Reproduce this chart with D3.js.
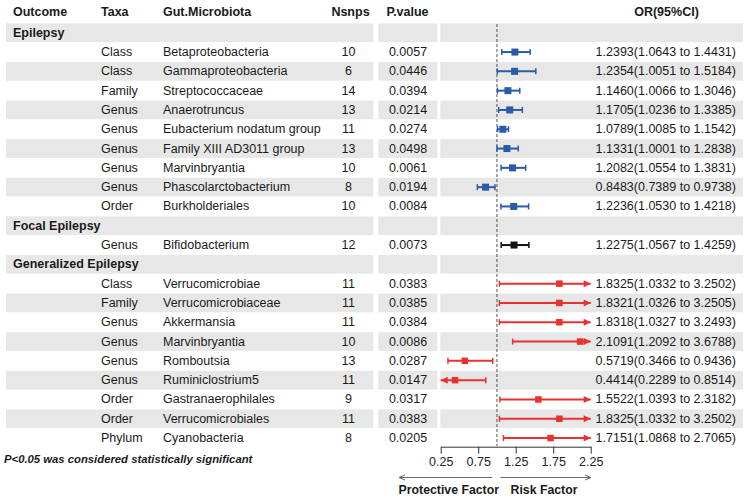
<!DOCTYPE html>
<html>
<head>
<meta charset="utf-8">
<script src="https://cdn.jsdelivr.net/npm/d3@7"></script>
<style>
  body { margin: 0; background: #fff; }
  svg { font-family: "Liberation Sans", Arial, sans-serif; }
</style>
</head>
<body>
<div id="chart"></div>
<script>
// data
const groups = ["Epilepsy", "Focal Epilepsy", "Generalized Epilepsy"];
const groupOf = [0,0,0,0,0,0,0,0,0, 1, 2,2,2,2,2,2,2,2,2];
const taxa = ["Class","Class","Family","Genus","Genus","Genus","Genus","Genus","Order",
  "Genus",
  "Class","Family","Genus","Genus","Genus","Genus","Order","Order","Phylum"];
const microbiota = ["Betaproteobacteria","Gammaproteobacteria","Streptococcaceae","Anaerotruncus",
  "Eubacterium nodatum group","Family XIII AD3011 group","Marvinbryantia","Phascolarctobacterium","Burkholderiales",
  "Bifidobacterium",
  "Verrucomicrobiae","Verrucomicrobiaceae","Akkermansia","Marvinbryantia","Romboutsia",
  "Ruminiclostrium5","Gastranaerophilales","Verrucomicrobiales","Cyanobacteria"];
const nsnps = [10,6,14,13,11,13,10,8,10, 12, 11,11,11,10,13,11,9,11,8];
const pvals = [0.0057,0.0446,0.0394,0.0214,0.0274,0.0498,0.0061,0.0194,0.0084,
  0.0073,
  0.0383,0.0385,0.0384,0.0086,0.0287,0.0147,0.0317,0.0383,0.0205];
const orVals = [1.2393,1.2354,1.1460,1.1705,1.0789,1.1331,1.2082,0.8483,1.2236,
  1.2275,
  1.8325,1.8321,1.8318,2.1091,0.5719,0.4414,1.5522,1.8325,1.7151];
const lowVals = [1.0643,1.0051,1.0066,1.0236,1.0085,1.0001,1.0554,0.7389,1.0530,
  1.0567,
  1.0332,1.0326,1.0327,1.2092,0.3466,0.2289,1.0393,1.0332,1.0868];
const highVals = [1.4431,1.5184,1.3046,1.3385,1.1542,1.2838,1.3831,0.9738,1.4218,
  1.4259,
  3.2502,3.2505,3.2493,3.6788,0.9436,0.8514,2.3182,3.2502,2.7065];
const tickValues = [0.25, 0.75, 1.25, 1.75, 2.25];

const groupColors = ["#2b5aa8", "#111111", "#e8322f"];
const markSize = [7, 7, 6.5];

const W = 748, H = 499;
const fmt4 = d3.format(".4f");

// build the table rows: group header then its items
const rows = [];
groups.forEach((g, gi) => {
  rows.push({ header: true, label: g });
  groupOf.forEach((k, i) => {
    if (k === gi) rows.push({ header: false, i: i, g: gi });
  });
});

const svg = d3.select("#chart").append("svg")
  .attr("width", W).attr("height", H);

const y = d3.scaleBand()
  .domain(d3.range(rows.length))
  .range([23.1, 447.7]);

const x = d3.scaleLinear()
  .domain([0.25, 2.25])
  .range([440.7, 590.7]);

// shaded bands (three cells per row)
const cells = [[6, 373.3], [378.3, 437.3], [440.3, 743]];
rows.forEach((r, k) => {
  if (k % 2 !== 0) return;
  cells.forEach(c => {
    svg.append("rect")
      .attr("x", c[0]).attr("y", y(k) + 0.3)
      .attr("width", c[1] - c[0]).attr("height", y.bandwidth() - 0.6)
      .attr("fill", "#e7e7e7");
  });
});

// column headers
const headY = 12;
const heads = [
  { t: "Outcome", x: 13, a: "start" },
  { t: "Taxa", x: 101, a: "start" },
  { t: "Gut.Microbiota", x: 163, a: "start" },
  { t: "Nsnps", x: 350.5, a: "middle" },
  { t: "P.value", x: 407.5, a: "middle" },
  { t: "OR(95%CI)", x: 666.5, a: "middle" }
];
svg.selectAll(".head").data(heads).enter().append("text")
  .attr("class", "head")
  .attr("x", d => d.x).attr("y", headY)
  .attr("text-anchor", d => d.a)
  .attr("dominant-baseline", "central")
  .style("font-size", "12.5px").style("font-weight", "bold")
  .attr("fill", "#1a1a1a")
  .text(d => d.t);

const cy = k => y(k) + y.bandwidth() / 2;

// reference line at OR = 1
svg.append("line")
  .attr("x1", x(1)).attr("x2", x(1))
  .attr("y1", 24).attr("y2", 446)
  .attr("stroke", "#555").attr("stroke-width", 1)
  .attr("stroke-dasharray", "3,2");

// text cells
rows.forEach((r, k) => {
  const yy = cy(k);
  const txt = (s, xx, anchor, bold) => svg.append("text")
    .attr("x", xx).attr("y", yy)
    .attr("text-anchor", anchor)
    .attr("dominant-baseline", "central")
    .style("font-size", "12.5px")
    .style("font-weight", bold ? "bold" : "normal")
    .attr("fill", "#1a1a1a")
    .text(s);
  if (r.header) {
    txt(r.label, 13, "start", true);
    return;
  }
  const i = r.i;
  txt(taxa[i], 101, "start");
  txt(microbiota[i], 163, "start");
  txt(nsnps[i], 348.5, "middle");
  txt(fmt4(pvals[i]), 408, "middle");
  txt(`${fmt4(orVals[i])}(${fmt4(lowVals[i])} to ${fmt4(highVals[i])})`, 736, "end");
});

// forest marks
const [xmin, xmax] = x.domain();
rows.forEach((r, k) => {
  if (r.header) return;
  const i = r.i, col = groupColors[r.g], s = markSize[r.g];
  const yy = cy(k);
  const lo = Math.max(lowVals[i], xmin), hi = Math.min(highVals[i], xmax);
  const g = svg.append("g");
  g.append("line")
    .attr("x1", x(lo)).attr("x2", x(hi))
    .attr("y1", yy).attr("y2", yy)
    .attr("stroke", col).attr("stroke-width", 2);
  // left end
  if (lowVals[i] < xmin) {
    g.append("path")
      .attr("d", `M${x(lo)},${yy}l7,-3.5v7z`).attr("fill", col);
  } else {
    g.append("line")
      .attr("x1", x(lo)).attr("x2", x(lo))
      .attr("y1", yy - 3).attr("y2", yy + 3)
      .attr("stroke", col).attr("stroke-width", 1.5);
  }
  // right end
  if (highVals[i] > xmax) {
    g.append("path")
      .attr("d", `M${x(hi)},${yy}l-7,-3.5v7z`).attr("fill", col);
  } else {
    g.append("line")
      .attr("x1", x(hi)).attr("x2", x(hi))
      .attr("y1", yy - 3).attr("y2", yy + 3)
      .attr("stroke", col).attr("stroke-width", 1.5);
  }
  g.append("rect")
    .attr("x", x(orVals[i]) - s / 2).attr("y", yy - s / 2)
    .attr("width", s).attr("height", s)
    .attr("fill", col);
});

// x axis
const axisG = svg.append("g")
  .attr("transform", "translate(0,446.7)")
  .call(d3.axisBottom(x).tickValues(tickValues).tickSize(7).tickSizeOuter(0).tickFormat(d3.format(".2f")));
axisG.select(".domain").attr("stroke", "#333");
axisG.selectAll(".tick line").attr("stroke", "#333");
axisG.selectAll(".tick text")
  .style("font-size", "12.5px")
  .style("font-family", "'Liberation Sans', Arial, sans-serif")
  .attr("fill", "#222");

// direction arrows
const arrowY = 477.5;
svg.append("line").attr("x1", 400).attr("x2", 492).attr("y1", arrowY).attr("y2", arrowY)
  .attr("stroke", "#666").attr("stroke-width", 1);
svg.append("path").attr("d", `M399,${arrowY}l6,-2.5M399,${arrowY}l6,2.5`)
  .attr("stroke", "#666").attr("fill", "none");
svg.append("line").attr("x1", 500.5).attr("x2", 590.5).attr("y1", arrowY).attr("y2", arrowY)
  .attr("stroke", "#666").attr("stroke-width", 1);
svg.append("path").attr("d", `M591,${arrowY}l-6,-2.5M591,${arrowY}l-6,2.5`)
  .attr("stroke", "#666").attr("fill", "none");

svg.append("text")
  .attr("x", 499).attr("y", 489.5)
  .attr("text-anchor", "end").attr("dominant-baseline", "central")
  .style("font-size", "12.3px").style("font-weight", "bold")
  .attr("fill", "#1a1a1a")
  .text("Protective Factor");
svg.append("text")
  .attr("x", 510.5).attr("y", 489.5)
  .attr("text-anchor", "start").attr("dominant-baseline", "central")
  .style("font-size", "12.3px").style("font-weight", "bold")
  .attr("fill", "#1a1a1a")
  .text("Risk Factor");

// footnote
svg.append("text")
  .attr("x", 4).attr("y", 459)
  .attr("dominant-baseline", "central")
  .style("font-size", "11.3px").style("font-weight", "bold").style("font-style", "italic")
  .attr("fill", "#1a1a1a")
  .text("P<0.05 was considered statistically significant");
</script>
</body>
</html>
